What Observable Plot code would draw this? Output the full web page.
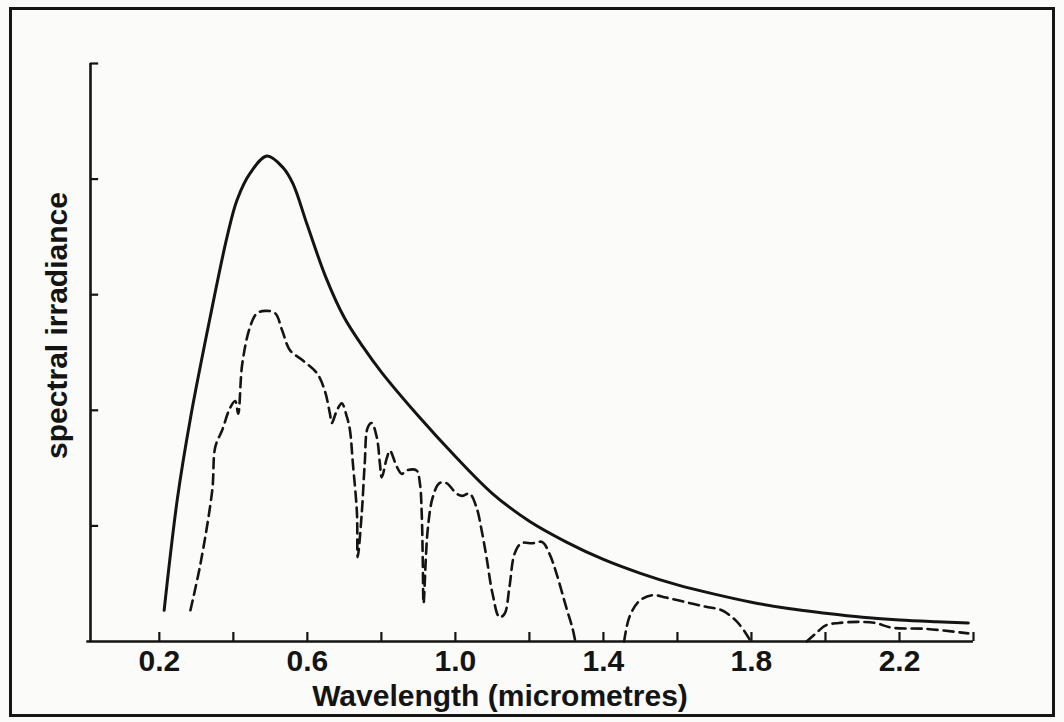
<!DOCTYPE html>
<html>
<head>
<meta charset="utf-8">
<script src="https://cdn.jsdelivr.net/npm/d3@7"></script>
<script src="https://cdn.jsdelivr.net/npm/@observablehq/plot@0.6"></script>
<style>
  html, body { margin: 0; padding: 0; background: #fbfbfa; }
  #wrap { position: relative; width: 1064px; height: 722px; overflow: hidden; }
  #wrap svg { display: block; }
  #border { position: absolute; left: 9px; top: 7px; width: 1046px; height: 710px;
            box-sizing: border-box; border: 3px solid #161616; pointer-events: none; }
</style>
</head>
<body>
<div id="wrap"><div id="border"></div></div>
<script>
// Solid curve: radiation at top of atmosphere
const solidWavelength = [0.213, 0.249, 0.284, 0.337, 0.383, 0.410, 0.445, 0.491, 0.534, 0.561, 0.600, 0.650, 0.700, 0.750, 0.800, 0.900, 1.000, 1.100, 1.200, 1.300, 1.400, 1.500, 1.600, 1.700, 1.800, 1.900, 2.000, 2.100, 2.200, 2.300, 2.386];
const solidIrradiance = [0.27, 1.24, 1.93, 2.80, 3.50, 3.82, 4.05, 4.20, 4.10, 3.96, 3.60, 3.15, 2.80, 2.55, 2.33, 1.95, 1.60, 1.28, 1.04, 0.86, 0.71, 0.59, 0.49, 0.41, 0.34, 0.285, 0.245, 0.21, 0.185, 0.17, 0.16];

// Dashed curve: radiation at sea level (three separate pieces)
const dashedWavelength = [
  0.284, 0.311, 0.343, 0.351, 0.370, 0.391, 0.405, 0.413, 0.424, 0.445, 0.464, 0.486, 0.513, 0.532, 0.553, 0.588, 0.626, 0.647, 0.661, 0.666, 0.680, 0.693, 0.707, 0.715, 0.723, 0.734, 0.736, 0.747, 0.755, 0.763, 0.774, 0.788, 0.796, 0.801, 0.815, 0.823, 0.842, 0.855, 0.868, 0.895, 0.904, 0.909, 0.912, 0.914, 0.925, 0.939, 0.957, 0.976, 1.003, 1.019, 1.038, 1.057, 1.071, 1.084, 1.100, 1.119, 1.133, 1.146, 1.160, 1.178, 1.208, 1.235, 1.254, 1.273, 1.300, 1.316, 1.324,
  1.456, 1.470, 1.497, 1.532, 1.569, 1.623, 1.677, 1.720, 1.758, 1.785, 1.798,
  1.949, 1.974, 2.001, 2.036, 2.089, 2.135, 2.178, 2.270, 2.386];
const dashedIrradiance = [
  0.27, 0.67, 1.31, 1.68, 1.83, 2.02, 2.08, 1.97, 2.40, 2.72, 2.84, 2.86, 2.84, 2.69, 2.52, 2.43, 2.32, 2.17, 1.97, 1.89, 2.00, 2.06, 1.94, 1.83, 1.54, 1.11, 0.73, 1.11, 1.54, 1.85, 1.89, 1.76, 1.54, 1.42, 1.59, 1.65, 1.51, 1.45, 1.48, 1.48, 1.37, 1.11, 0.67, 0.33, 0.96, 1.25, 1.37, 1.37, 1.28, 1.26, 1.28, 1.16, 0.96, 0.73, 0.42, 0.21, 0.24, 0.47, 0.76, 0.85, 0.85, 0.86, 0.76, 0.59, 0.29, 0.12, 0.00,
  0.00, 0.21, 0.35, 0.40, 0.38, 0.34, 0.30, 0.27, 0.18, 0.07, 0.00,
  0.00, 0.07, 0.14, 0.16, 0.17, 0.16, 0.12, 0.11, 0.07];
const dashedPiece = [
  ...Array(67).fill(1),
  ...Array(11).fill(2),
  ...Array(9).fill(3)];

const xTickValues = [0.2, 0.4, 0.6, 0.8, 1.0, 1.2, 1.4, 1.6, 1.8, 2.0, 2.2, 2.4];
const xTickLabels = [0.2, 0.6, 1.0, 1.4, 1.8, 2.2];
const yTickValues = [1, 2, 3, 4, 5];
const xTitle = "Wavelength (micrometres)";
const yTitle = "spectral irradiance";

const solid = solidWavelength.map((w, i) => ({w, v: solidIrradiance[i]}));
const dashed = dashedWavelength.map((w, i) => ({w, v: dashedIrradiance[i], piece: dashedPiece[i]}));

const xMin = 0.014, xMax = 2.4, yMax = 5;
const xTickLen = 0.078;   // inward tick length in y units
const yTickLen = 0.022;   // inward tick length in x units

const ink = "#141414";
const chart = Plot.plot({
  width: 1064,
  height: 722,
  marginLeft: 90,
  marginRight: 91,
  marginTop: 63,
  marginBottom: 81,
  x: {domain: [xMin, xMax]},
  y: {domain: [0, yMax]},
  style: {fontFamily: "'Liberation Sans', Arial, sans-serif", fontWeight: "bold", color: ink, background: "transparent"},
  marks: [
    Plot.ruleY([0], {x1: 0.004, x2: xMax, stroke: ink, strokeWidth: 2.6}),
    Plot.ruleX([xMin], {y1: 0, y2: yMax, stroke: ink, strokeWidth: 2.6}),
    Plot.ruleX(xTickValues, {x: d => d, y1: 0, y2: xTickLen, stroke: ink, strokeWidth: 2.2}),
    Plot.ruleY(yTickValues, {y: d => d, x1: xMin, x2: xMin + yTickLen, stroke: ink, strokeWidth: 2.2}),
    Plot.axisX(xTickLabels, {tickSize: 0, tickPadding: 8, fontSize: 30, fill: ink, tickFormat: d => d.toFixed(1), label: null}),
    Plot.axisY({ticks: [], label: null}),
    Plot.line(solid, {x: "w", y: "v", curve: "catmull-rom", stroke: ink, strokeWidth: 3}),
    Plot.line(dashed, {x: "w", y: "v", z: "piece", curve: "catmull-rom", stroke: ink, strokeWidth: 2.6, strokeDasharray: "10,6"}),
    Plot.text([xTitle], {frameAnchor: "bottom", dx: -32, dy: 55, fontSize: 30, fill: ink, lineAnchor: "middle", textAnchor: "middle", style: "letter-spacing:1.1px"}),
    Plot.text([yTitle], {frameAnchor: "left", rotate: -90, dx: -33, dy: -27, fontSize: 30, fill: ink, lineAnchor: "middle", textAnchor: "middle", style: "letter-spacing:1.3px"})
  ]
});
document.getElementById("wrap").prepend(chart);
</script>
</body>
</html>
